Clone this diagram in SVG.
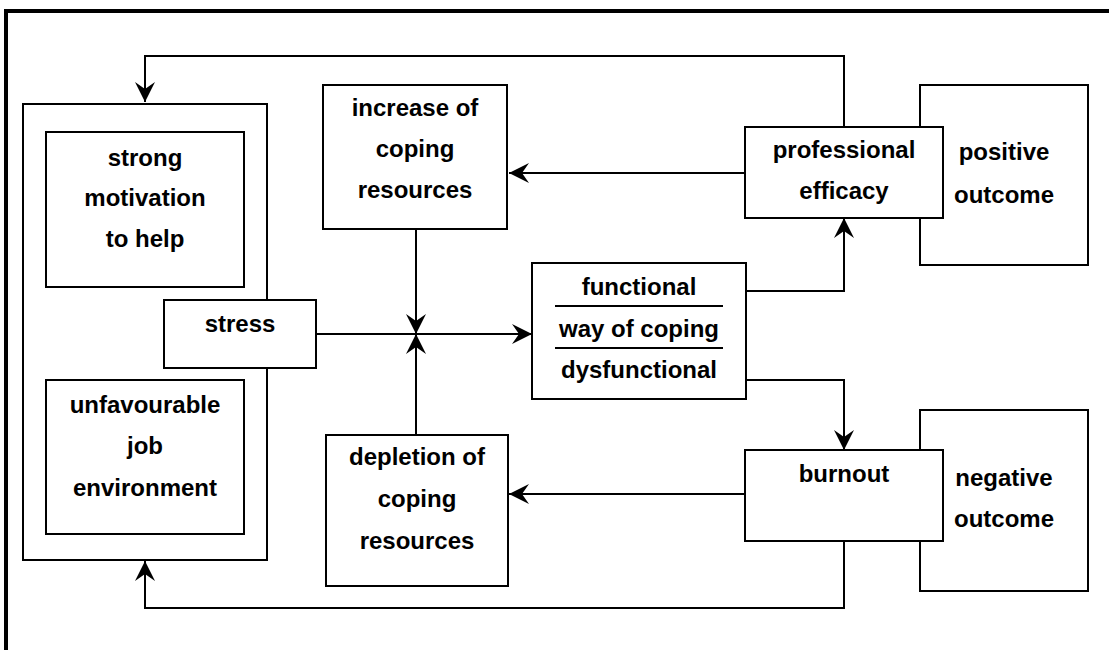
<svg xmlns="http://www.w3.org/2000/svg" width="1109" height="650" viewBox="0 0 1109 650">
<style>
.box{fill:#fff;stroke:#000;stroke-width:2}
.t{font-family:"Liberation Sans",Arial,sans-serif;font-weight:bold;font-size:24px;fill:#000;text-anchor:middle}
.c{fill:none;stroke:#000;stroke-width:2}
</style>
<defs>
<marker id="ah" markerUnits="userSpaceOnUse" markerWidth="24" markerHeight="24" viewBox="0 -12 22 24" refX="20" refY="0" orient="auto">
<path d="M0,-10 L20,0 L0,10 L7,0 Z" fill="#000"/>
</marker>
</defs>
<rect x="0" y="0" width="1109" height="650" fill="#fff"/>
<rect id="frame" x="6" y="11" width="1120" height="660" fill="none" stroke="#000" stroke-width="4"/>

<g id="outcome-pos"><rect class="box" x="920" y="85" width="168" height="180"/>
<text class="t" x="1004" y="160">positive</text><text class="t" x="1004" y="203">outcome</text></g>
<g id="outcome-neg"><rect class="box" x="920" y="410" width="168" height="181"/>
<text class="t" x="1004" y="486">negative</text><text class="t" x="1004" y="527">outcome</text></g>

<g id="connectors">
<path class="c" d="M844,127 V56 H145 V102" marker-end="url(#ah)"/>
<path class="c" d="M745,173 H509" marker-end="url(#ah)"/>
<path class="c" d="M416,229 V334" marker-end="url(#ah)"/>
<path class="c" d="M416,435 V334" marker-end="url(#ah)"/>
<path class="c" d="M316,334 H532" marker-end="url(#ah)"/>
<path class="c" d="M746,291 H844 V218" marker-end="url(#ah)"/>
<path class="c" d="M746,380 H844 V450" marker-end="url(#ah)"/>
<path class="c" d="M745,494 H509" marker-end="url(#ah)"/>
<path class="c" d="M844,541 V608 H145 V561" marker-end="url(#ah)"/>
</g>

<g id="container"><rect class="box" x="23" y="104" width="244" height="456"/></g>
<g id="motivation"><rect class="box" x="46" y="132" width="198" height="155"/>
<text class="t" x="145" y="166">strong</text><text class="t" x="145" y="206">motivation</text><text class="t" x="145" y="247">to help</text></g>
<g id="environment"><rect class="box" x="46" y="380" width="198" height="154"/>
<text class="t" x="145" y="413">unfavourable</text><text class="t" x="145" y="454">job</text><text class="t" x="145" y="496">environment</text></g>
<g id="stress"><rect class="box" x="164" y="300" width="152" height="68"/>
<text class="t" x="240" y="332">stress</text></g>

<g id="increase"><rect class="box" x="323" y="85" width="184" height="144"/>
<text class="t" x="415" y="116">increase of</text><text class="t" x="415" y="157">coping</text><text class="t" x="415" y="198">resources</text></g>
<g id="depletion"><rect class="box" x="326" y="435" width="182" height="151"/>
<text class="t" x="417" y="465">depletion of</text><text class="t" x="417" y="507">coping</text><text class="t" x="417" y="549">resources</text></g>

<g id="way"><rect class="box" x="532" y="263" width="214" height="136"/>
<text class="t" x="639" y="295">functional</text>
<line x1="555" y1="306" x2="723" y2="306" stroke="#000" stroke-width="2"/>
<text class="t" x="639" y="337">way of coping</text>
<line x1="555" y1="348" x2="723" y2="348" stroke="#000" stroke-width="2"/>
<text class="t" x="639" y="378">dysfunctional</text></g>

<g id="efficacy"><rect class="box" x="745" y="127" width="198" height="91"/>
<text class="t" x="844" y="158">professional</text><text class="t" x="844" y="199">efficacy</text></g>
<g id="burnout"><rect class="box" x="745" y="450" width="198" height="91"/>
<text class="t" x="844" y="482">burnout</text></g>
</svg>
